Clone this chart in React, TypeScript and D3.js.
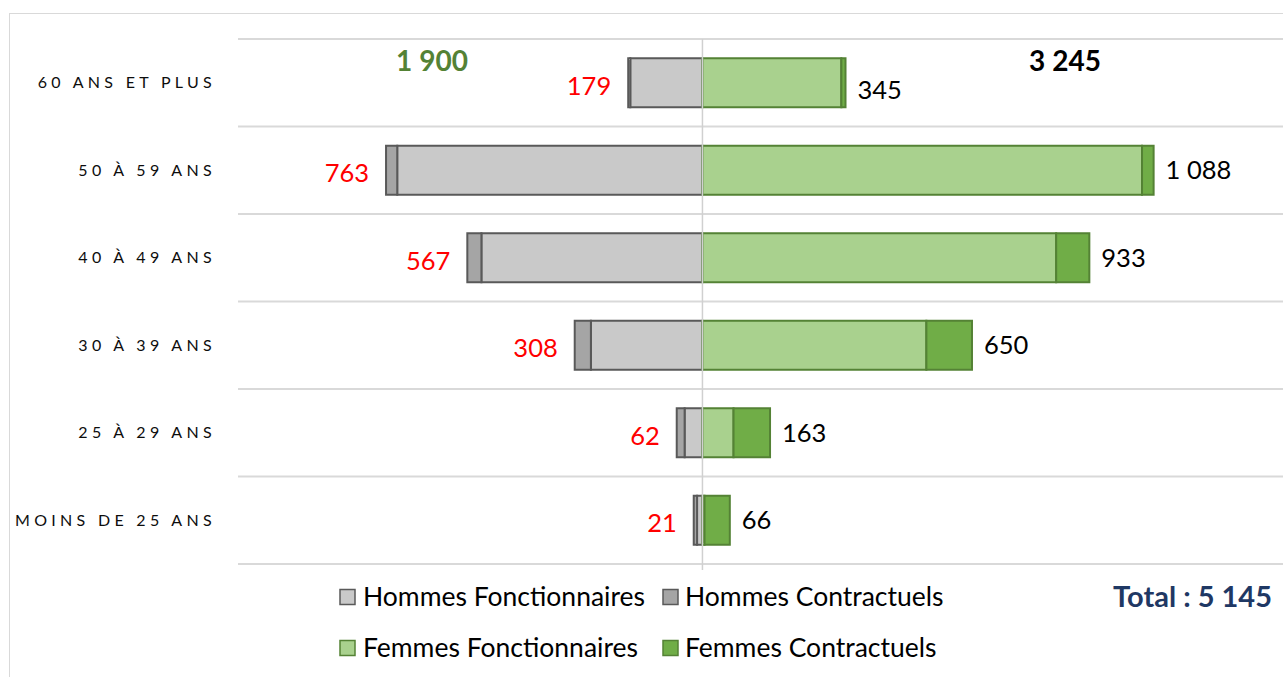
import React from "react";
import * as d3 from "d3";

const categories = [
  "60 ANS ET PLUS",
  "50 À 59 ANS",
  "40 À 49 ANS",
  "30 À 39 ANS",
  "25 À 29 ANS",
  "MOINS DE 25 ANS",
];
const hommesFonctionnaires = [174, 736, 533, 269, 43, 13];
const hommesContractuels = [5, 27, 34, 39, 19, 8];
const femmesFonctionnaires = [335, 1060, 853, 540, 75, 5];
const femmesContractuels = [10, 28, 80, 110, 88, 61];
const hommesLabels = ["179", "763", "567", "308", "62", "21"];
const femmesLabels = ["345", "1 088", "933", "650", "163", "66"];
const totalHommes = "1 900";
const totalFemmes = "3 245";
const totalGeneral = "Total : 5 145";

const W = 1283;
const H = 677;
const FONT = "Lato, 'Open Sans', sans-serif";

const legendItems = [
  { label: "Hommes Fonctionnaires", fill: "#c9c9c9", stroke: "#595959", row: 0, col: 0 },
  { label: "Hommes Contractuels", fill: "#a5a5a5", stroke: "#595959", row: 0, col: 1 },
  { label: "Femmes Fonctionnaires", fill: "#a9d18e", stroke: "#548235", row: 1, col: 0 },
  { label: "Femmes Contractuels", fill: "#70ad47", stroke: "#548235", row: 1, col: 1 },
];

const App = () => {
  const x = d3.scaleLinear().domain([-1120, 1400]).range([238, 1283]);
  const y = d3.scaleBand().domain(categories).range([39, 564]).paddingInner(0.44).paddingOuter(0.22);
  const band = d3.scaleBand().domain(categories).range([39, 564]);
  const x0 = x(0);

  return (
    <svg width={W} height={H} style={{ position: "absolute", left: 0, top: 0 }} fontFamily={FONT}>
      <rect x={9.5} y={13.5} width={W} height={H} fill="#fff" stroke="#d9d9d9" />
      {/* grid lines */}
      {categories.map((c) => (
        <line key={c} x1={238} x2={W} y1={band(c)!} y2={band(c)!} stroke="#d9d9d9" strokeWidth={2} />
      ))}
      <line x1={238} x2={W} y1={564} y2={564} stroke="#d9d9d9" strokeWidth={2} />

      {categories.map((c, i) => {
        const yc = band(c)! + band.bandwidth() / 2;
        const by = y(c)!;
        const bh = y.bandwidth();
        const hf = hommesFonctionnaires[i];
        const hc = hommesContractuels[i];
        const ff = femmesFonctionnaires[i];
        const fc = femmesContractuels[i];
        return (
          <g key={c}>
            <text x={216} y={yc} dy="0.35em" textAnchor="end" fontSize={16} letterSpacing={4.3} fill="#0d0d0d">
              {c}
            </text>
            <rect x={x(-hf)} y={by} width={x0 - x(-hf)} height={bh} fill="#c9c9c9" stroke="#595959" strokeWidth={2} />
            <rect x={x(-hf - hc)} y={by} width={x(-hf) - x(-hf - hc)} height={bh} fill="#a5a5a5" stroke="#595959" strokeWidth={2} />
            <rect x={x0} y={by} width={x(ff) - x0} height={bh} fill="#a9d18e" stroke="#548235" strokeWidth={2} />
            <rect x={x(ff)} y={by} width={x(ff + fc) - x(ff)} height={bh} fill="#70ad47" stroke="#548235" strokeWidth={2} />
            <text x={x(-hf - hc) - 17} y={yc + 3} dy="0.35em" textAnchor="end" fontSize={25.5} fill="#ff0000">
              {hommesLabels[i]}
            </text>
            <text x={x(ff + fc) + 12} y={yc + (i === 0 ? 7 : 0)} dy="0.35em" textAnchor="start" fontSize={25.5} fill="#000">
              {femmesLabels[i]}
            </text>
          </g>
        );
      })}

      <line x1={x0} x2={x0} y1={39} y2={570} stroke="#d0d0d0" strokeWidth={1.5} />

      <text x={432} y={61} dy="0.35em" textAnchor="middle" fontSize={28} fontWeight="bold" fill="#548235">
        {totalHommes}
      </text>
      <text x={1065} y={61} dy="0.35em" textAnchor="middle" fontSize={28} fontWeight="bold" fill="#000">
        {totalFemmes}
      </text>

      {legendItems.map((d) => {
        const lx = d.col === 0 ? 340 : 663;
        const ly = d.row === 0 ? 597 : 648;
        return (
          <g key={d.label}>
            <rect x={lx} y={ly - 7.5} width={15} height={15} fill={d.fill} stroke={d.stroke} strokeWidth={1.5} />
            <text x={d.col === 0 ? lx + 23 : lx + 22} y={ly} dy="0.35em" fontSize={26.5} fill="#000">
              {d.label}
            </text>
          </g>
        );
      })}
      <text x={1272} y={597} dy="0.35em" textAnchor="end" fontSize={29} fontWeight="bold" fill="#1f3864">
        {totalGeneral}
      </text>
    </svg>
  );
};

export default App;
